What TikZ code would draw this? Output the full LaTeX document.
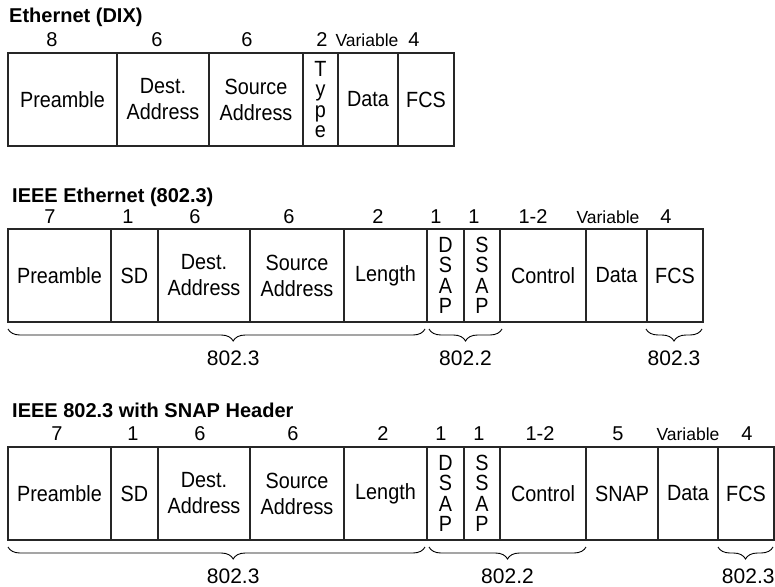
\documentclass[tikz,border=0pt]{standalone}
\usepackage{fontspec}
\setmainfont{Liberation Sans}
\newfontfamily\fieldfont[FakeStretch=0.9]{Liberation Sans}
\usepackage{tikz}
\usetikzlibrary{positioning, decorations.pathreplacing}

\tikzset{
    field/.style={draw=black!85, line width=1.1pt, minimum height=93pt, inner sep=0pt,
        outer sep=0pt, align=center, font=\fieldfont\fontsize{22}{26}\selectfont},
    vfield/.style={field, font=\fieldfont\fontsize{22}{20.5}\selectfont},
    size/.style={anchor=base, font=\fontsize{20}{24}\selectfont},
    varsize/.style={anchor=base, font=\fontsize{17.5}{20}\selectfont},
    title/.style={anchor=base west, inner sep=0pt, font=\bfseries\fontsize{20}{24}\selectfont},
    part/.style={decorate, decoration={brace, mirror, amplitude=12pt}, line width=0.9pt},
    partlabel/.style={anchor=base, yshift=-36pt, font=\fontsize{21}{24}\selectfont}
}

\begin{document}
\begin{tikzpicture}[x=1pt, y=-1pt]
    \useasboundingbox (0,0) rectangle (775,586);

    % Ethernet (DIX)
    \node[title] (dixtitle) at (9,23) {Ethernet (DIX)};
    \foreach \x/\n [count=\i] in {52/8, 157/6, 247/6, 322/2, 414/4}
        \node[size] (dixn\i) at (\x,47) {\n};
    \node[varsize] (dixvar) at (367,47) {Variable};
    \node[field, minimum width=109pt, anchor=north west] (dixpre) at (8,53) {Preamble};
    \node[field, minimum width=92pt, right=0pt of dixpre] (dixdst) {Dest.\\Address};
    \node[field, minimum width=94pt, right=0pt of dixdst] (dixsrc) {Source\\Address};
    \node[vfield, minimum width=35pt, right=0pt of dixsrc] (dixtyp) {T\\y\\p\\e};
    \node[field, minimum width=60pt, right=0pt of dixtyp] (dixdat) {Data};
    \node[field, minimum width=56pt, right=0pt of dixdat] (dixfcs) {FCS};

    % IEEE Ethernet (802.3)
    \node[title] (ietitle) at (12,202) {IEEE Ethernet (802.3)};
    \foreach \x/\n [count=\i] in {50/7, 128/1, 195/6, 289/6, 378/2, 436/1, 474/1, 533/1-2, 666/4}
        \node[size] (ien\i) at (\x,223) {\n};
    \node[varsize] (ievar) at (608,223) {Variable};
    \node[field, minimum width=103pt, anchor=north west] (iepre) at (8,229) {Preamble};
    \node[field, minimum width=47pt, right=0pt of iepre] (iesd) {SD};
    \node[field, minimum width=92pt, right=0pt of iesd] (iedst) {Dest.\\Address};
    \node[field, minimum width=94pt, right=0pt of iedst] (iesrc) {Source\\Address};
    \node[field, minimum width=83pt, right=0pt of iesrc] (ielen) {Length};
    \node[vfield, minimum width=37pt, right=0pt of ielen] (iedsap) {D\\S\\A\\P};
    \node[vfield, minimum width=36pt, right=0pt of iedsap] (iessap) {S\\S\\A\\P};
    \node[field, minimum width=86pt, right=0pt of iessap] (iectl) {Control};
    \node[field, minimum width=61pt, right=0pt of iectl] (iedat) {Data};
    \node[field, minimum width=56pt, right=0pt of iedat] (iefcs) {FCS};
    \draw[part, decoration={aspect=0.54}] ([yshift=-7pt]iepre.south west) -- ([xshift=-2pt, yshift=-7pt]ielen.south east)
        node[partlabel, pos=0.54] (ielab1) {802.3};
    \draw[part] ([xshift=2pt, yshift=-7pt]iedsap.south west) -- ([xshift=2pt, yshift=-7pt]iessap.south east)
        node[partlabel, midway] (ielab2) {802.2};
    \draw[part] ([xshift=-1pt, yshift=-7pt]iefcs.south west) -- ([xshift=-1pt, yshift=-7pt]iefcs.south east)
        node[partlabel, midway] (ielab3) {802.3};

    % IEEE 802.3 with SNAP Header
    \node[title] (sntitle) at (12,417) {IEEE 802.3 with SNAP Header};
    \foreach \x/\n [count=\i] in {57/7, 133/1, 200/6, 293/6, 383/2, 441/1, 479/1, 540/1-2, 618/5, 747/4}
        \node[size] (snn\i) at (\x,440) {\n};
    \node[varsize] (snvar) at (688,440) {Variable};
    \node[field, minimum width=103pt, anchor=north west] (snpre) at (8,447) {Preamble};
    \node[field, minimum width=47pt, right=0pt of snpre] (snsd) {SD};
    \node[field, minimum width=92pt, right=0pt of snsd] (sndst) {Dest.\\Address};
    \node[field, minimum width=94pt, right=0pt of sndst] (snsrc) {Source\\Address};
    \node[field, minimum width=83pt, right=0pt of snsrc] (snlen) {Length};
    \node[vfield, minimum width=37pt, right=0pt of snlen] (sndsap) {D\\S\\A\\P};
    \node[vfield, minimum width=36pt, right=0pt of sndsap] (snssap) {S\\S\\A\\P};
    \node[field, minimum width=86pt, right=0pt of snssap] (snctl) {Control};
    \node[field, minimum width=72pt, right=0pt of snctl] (snsnap) {SNAP};
    \node[field, minimum width=60pt, right=0pt of snsnap] (sndat) {Data};
    \node[field, minimum width=56pt, right=0pt of sndat] (snfcs) {FCS};
    \draw[part, decoration={aspect=0.54}] ([yshift=-7pt]snpre.south west) -- ([xshift=-2pt, yshift=-7pt]snlen.south east)
        node[partlabel, pos=0.54] (snlab1) {802.3};
    \draw[part] ([xshift=2pt, yshift=-7pt]sndsap.south west) -- ([yshift=-7pt]snctl.south east)
        node[partlabel, midway] (snlab2) {802.2};
    \draw[part] ([yshift=-7pt]snfcs.south west) -- ([xshift=-1pt, yshift=-7pt]snfcs.south east)
        node[partlabel, pos=0.55] (snlab3) {802.3};
\end{tikzpicture}
\end{document}
